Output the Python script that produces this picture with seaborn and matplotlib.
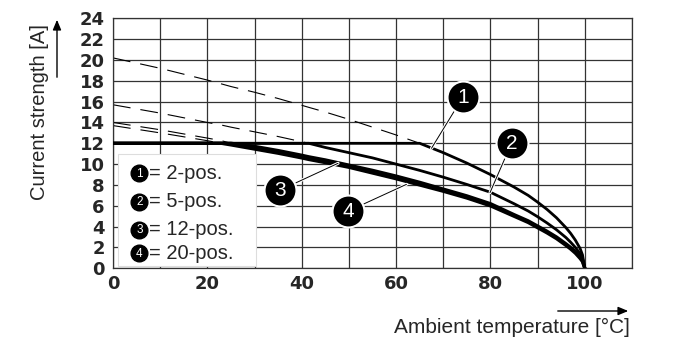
import numpy as np
import pandas as pd
import seaborn as sns
import matplotlib
matplotlib.use("Agg")
import matplotlib.pyplot as plt
import matplotlib.patheffects as pe
from matplotlib.patches import Rectangle, FancyArrowPatch

# (ambient temperature in °C, current in A)
temp = [0, 10, 20, 23, 25, 30, 35, 40, 41.5, 45, 50, 55, 60, 65, 70, 75, 80, 85,
        88, 90, 92, 94, 96, 97, 98, 99, 99.5, 100]
cur_2pos = [20.2, 19.2, 18.07, 17.7, 17.45, 16.9, 16.3, 15.65, 15.45, 15.0, 14.3, 13.55,
            12.8, 12.0, 11.1, 10.1, 9.0, 7.8, 7.0, 6.35, 5.65, 4.85, 3.9, 3.35, 2.7,
            1.9, 1.3, 0]
cur_5pos = [15.7, 14.9, 14.0, 13.75, 13.55, 13.1, 12.65, 12.15, 12.0, 11.6, 11.1, 10.6,
            10.0, 9.4, 8.75, 8.05, 7.3, 6.2, 5.5, 4.95, 4.35, 3.7, 2.95, 2.5, 2.0,
            1.4, 1.0, 0]
cur_12pos = [14.0, 13.3, 12.5, 12.25, 12.0, 11.7, 11.3, 10.85, 10.7, 10.4, 9.9, 9.4,
             8.85, 8.25, 7.6, 6.95, 6.2, 5.15, 4.55, 4.05, 3.55, 3.0, 2.35, 2.0, 1.6,
             1.05, 0.75, 0]
cur_20pos = [13.7, 13.0, 12.25, 12.0, 11.85, 11.45, 11.05, 10.6, 10.45, 10.15, 9.7, 9.15,
             8.6, 8.0, 7.4, 6.75, 6.0, 5.0, 4.4, 3.9, 3.4, 2.85, 2.2, 1.85, 1.45,
             0.95, 0.65, 0]
rated_max = 12

legend_labels = ["2-pos.", "5-pos.", "12-pos.", "20-pos."]
x_ticks = [0, 20, 40, 60, 80, 100]
y_ticks = list(range(0, 25, 2))

curves = [cur_2pos, cur_5pos, cur_12pos, cur_20pos]

sns.set_theme(style="white")
plt.rcParams["font.family"] = ["Liberation Sans", "DejaVu Sans"]

fig = plt.figure(figsize=(7, 3.63), dpi=100)
ax = fig.add_axes([113 / 700, 1 - 268.3 / 363, (632 - 113) / 700, (268.3 - 18.3) / 363])

# grid
for x in range(0, 111, 10):
    ax.axvline(x, color="#333333", lw=0.9, zorder=0)
for y in range(0, 25, 2):
    ax.axhline(y, color="#333333", lw=0.9, zorder=0)

# curves: dashed above the 12 A limit, solid capped at the limit
widths = [2.0, 2.0, 2.4, 2.4]
for i, c in enumerate(curves):
    c = np.array(c)
    df = pd.DataFrame({"T": temp, "I": np.minimum(c, rated_max)})
    sns.lineplot(data=df, x="T", y="I", ax=ax, color="black", lw=widths[i], zorder=3,
                 estimator=None, sort=False)
    above = c >= rated_max
    dd = pd.DataFrame({"T": np.array(temp)[above], "I": c[above]})
    line = sns.lineplot(data=dd, x="T", y="I", ax=ax, color="black", lw=0.8, zorder=2,
                        estimator=None, sort=False).lines[-1]
    line.set_dashes((16, 9))

ax.set_xlim(0, 110)
ax.set_ylim(0, 24)
ax.set_xticks(x_ticks)
ax.set_yticks(y_ticks)
ax.set_xlabel("")
ax.set_ylabel("")
ax.tick_params(axis="y", length=0, pad=6)
ax.tick_params(axis="x", length=0, pad=5)
for lab in ax.get_xticklabels() + ax.get_yticklabels():
    lab.set_fontweight("bold")
    lab.set_fontfamily("DejaVu Sans")
    lab.set_fontsize(13)
for s in ax.spines.values():
    s.set_color("#333333")
    s.set_linewidth(0.9)

# numbered callouts
halo = [pe.withStroke(linewidth=2.2, foreground="white")]
callouts = [((74.2, 16.47), (67.5, 11.52)),
            ((84.5, 12.05), (79.9, 7.26)),
            ((35.4, 7.5), (47.7, 10.08)),
            ((49.9, 5.5), (62.2, 8.06))]
for n, ((cx, cy), (ex, ey)) in enumerate(callouts, start=1):
    ax.plot([cx, ex], [cy, ey], color="black", lw=0.7, zorder=4, path_effects=halo)
    ax.plot(cx, cy, marker="o", ms=23, mfc="black", mec="white", mew=1.5, zorder=5)
    ax.text(cx, cy - 0.05, str(n), color="white", ha="center", va="center",
            fontsize=15, zorder=6)

# key box
ax.add_patch(Rectangle((1.06, 0.2), 29.2, 10.77, facecolor="white",
                       edgecolor="#dddddd", lw=0.8, zorder=4))
rows = [9.12, 6.39, 3.68, 1.44]
for n, (yy, lab) in enumerate(zip(rows, legend_labels), start=1):
    ax.plot(5.6, yy, marker="o", ms=12, mfc="black", mec="black", zorder=5)
    ax.text(5.6, yy - 0.05, str(n), color="white", ha="center", va="center",
            fontsize=8.5, zorder=6)
    ax.text(7.6, yy, "= " + lab, ha="left", va="center", fontsize=14.5, zorder=6)

# axis labels with arrows
fig.text(40 / 700, 1 - 112 / 363, "Current strength [A]", rotation=90,
         ha="center", va="center", fontsize=14.5)
fig.text(630 / 700, 1 - 327 / 363, "Ambient temperature [°C]", ha="right",
         va="center", fontsize=15)
fig.patches.append(FancyArrowPatch(
    (57 / 700, 1 - 80 / 363), (57 / 700, 1 - 17 / 363), transform=fig.transFigure,
    arrowstyle="-|>,head_length=6,head_width=2.5", color="black", lw=1))
fig.patches.append(FancyArrowPatch(
    (555 / 700, 1 - 311 / 363), (631 / 700, 1 - 311 / 363), transform=fig.transFigure,
    arrowstyle="-|>,head_length=6,head_width=2.5", color="black", lw=1))

fig.savefig("out.png", dpi=100)
